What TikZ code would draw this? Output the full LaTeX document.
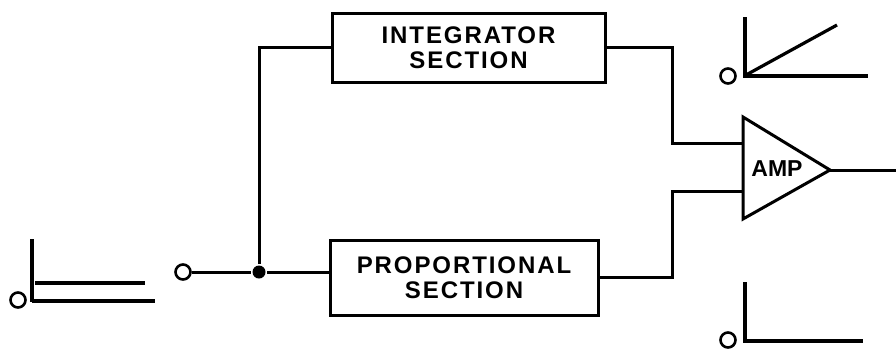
\documentclass[tikz,border=0pt]{standalone}
\usepackage{fontspec}
\newfontfamily\lblfont[LetterSpace=8]{Liberation Sans}
\newfontfamily\ampfont{Liberation Sans}
\begin{document}
\begin{tikzpicture}[x=1pt,y=-1pt,line width=3pt,
  blockbox/.style={draw,rectangle,inner sep=0pt,align=center,
    font=\lblfont\bfseries\fontsize{24}{25}\selectfont},
  terminal/.style={draw,circle,line width=2.6pt,minimum size=15pt,inner sep=0pt},
  junction/.style={fill,circle,minimum size=13pt,inner sep=0pt},
  wire/.style={line width=3pt},
  wave/.style={line width=3.2pt}]
\useasboundingbox (0,0) rectangle (896,349);

% blocks
\node[blockbox,minimum width=273pt,minimum height=69pt] (int) at (468.5,47.5) {INTEGRATOR\\SECTION};
\node[blockbox,minimum width=268pt,minimum height=75pt] (prop) at (464,277.5) {PROPORTIONAL\\SECTION};

% amplifier
\coordinate (atop) at (743,117);
\coordinate (abot) at (743,219);
\coordinate (aout) at (830,170);
\coordinate (ain1) at (743,143);
\coordinate (ain2) at (743,191);
\draw[wire,line join=miter] (atop) -- (aout) -- (abot) -- cycle;
\node[font=\ampfont\bfseries\fontsize{23}{25}\selectfont,inner sep=0pt] (amp) at (777,169) {AMP};

% input terminal and junction
\node[terminal] (inp) at (183,272) {};
\node[junction] (jn) at (259,272) {};
\coordinate (turn1) at (672,143);
\coordinate (turn2) at (672,191);
\coordinate (outend) at (896,170);

\draw[wire] (inp) -- (jn) -- (jn -| prop.west);
\draw[wire] (jn) |- (int.west);
\draw[wire] (int.east) -| (turn1) -- (ain1);
\draw[wire] (prop.east) -| (turn2) -- (ain2);
\draw[wire] (aout) -- (outend);

% waveform: step input (left)
\node[terminal] (w1c) at (18,300) {};
\draw[wave] (32,239) -- (32,302);
\draw[wave] (35,283) -- (145,283);
\draw[wave] (32,301) -- (155,301);

% waveform: ramp (top right)
\node[terminal] (w2c) at (728,76) {};
\draw[wave] (745,17) -- (745,76) -- (868,76);
\draw[wave] (746,75) -- (837,25);

% waveform: bottom right
\node[terminal] (w3c) at (728,340) {};
\draw[wave] (745,282) -- (745,341) -- (863,341);
\end{tikzpicture}
\end{document}
